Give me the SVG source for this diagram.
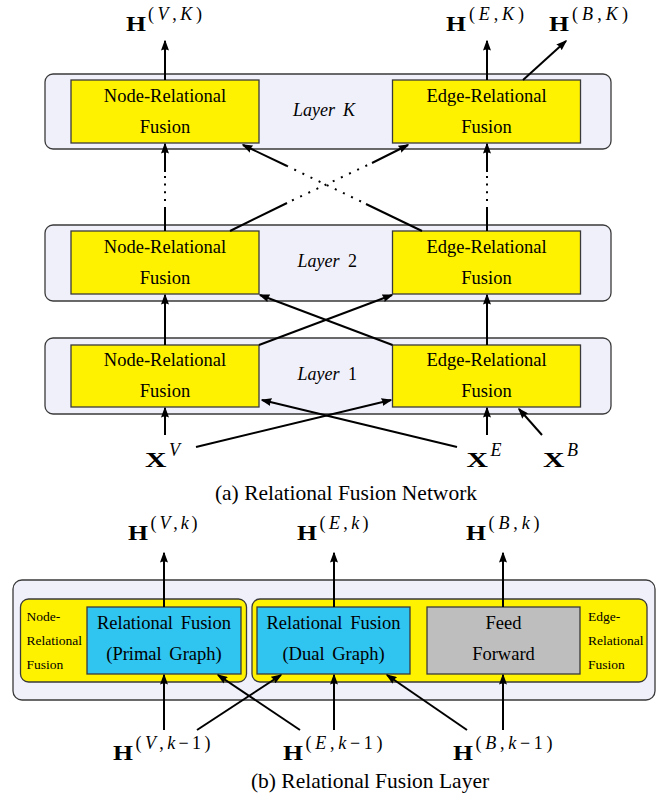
<svg xmlns="http://www.w3.org/2000/svg" width="669" height="804" viewBox="0 0 669 804">
<defs>
<marker id="arr" markerUnits="userSpaceOnUse" markerWidth="11" markerHeight="8" viewBox="0 0 11 8" refX="9.5" refY="4" orient="auto">
<path d="M0,0 L11,4 L0,8 Q2,4 0,0 z" fill="#000"/>
</marker>
<style>
.outer{fill:#f0f0fb;stroke:#3a3a3a;stroke-width:1.3}
.yel{fill:#fff200;stroke:#3a3a3a;stroke-width:1.3}
.blu{fill:#30c4f0;stroke:#3a3a3a;stroke-width:1.3}
.gry{fill:#bebebe;stroke:#3a3a3a;stroke-width:1.3}
.t{font-family:"Liberation Serif","Times New Roman",serif;font-size:18.5px;fill:#000;text-anchor:middle}
.tb{font-family:"Liberation Serif","Times New Roman",serif;font-size:18.5px;fill:#000;text-anchor:middle;word-spacing:3px}
.ts{font-family:"Liberation Serif","Times New Roman",serif;font-size:13.5px;fill:#000}
.lay{font-family:"Liberation Serif","Times New Roman",serif;font-size:18px;fill:#000;font-style:italic}
.up{font-style:normal}
.H{font-family:"Liberation Serif","Times New Roman",serif;font-size:22px;font-weight:bold;fill:#000}
.sup{font-family:"Liberation Serif","Times New Roman",serif;font-size:18px;font-style:italic;fill:#000}
.cap{font-family:"Liberation Serif","Times New Roman",serif;font-size:21.5px;fill:#000;text-anchor:middle}
.ln{stroke:#000;stroke-width:2;fill:none}
.dot{stroke:#000;stroke-width:2;fill:none;stroke-dasharray:2 7}
.dotv{stroke:#000;stroke-width:2;fill:none;stroke-dasharray:2 5.7}
</style>
</defs>
<rect width="669" height="804" fill="#fff"/>

<!-- (a) Relational Fusion Network -->
<g id="layerK">
<rect class="outer" x="45" y="74" width="566" height="75" rx="8"/>
<text class="lay" x="293" y="115.5">Layer <tspan x="343">K</tspan></text>
</g>
<g id="nodeK">
<rect class="yel" x="71" y="80" width="188" height="63"/>
<text class="t" x="165" y="101.5">Node-Relational</text>
<text class="t" x="165" y="133">Fusion</text>
</g>
<g id="edgeK">
<rect class="yel" x="392.5" y="80" width="188" height="63"/>
<text class="t" x="486.5" y="101.5">Edge-Relational</text>
<text class="t" x="486.5" y="133">Fusion</text>
</g>

<g id="layer2">
<rect class="outer" x="45" y="225" width="566" height="76" rx="8"/>
<text class="lay" x="297.5" y="267">Layer <tspan class="up" x="348">2</tspan></text>
</g>
<g id="node2">
<rect class="yel" x="71" y="231" width="188" height="63"/>
<text class="t" x="165" y="252.5">Node-Relational</text>
<text class="t" x="165" y="284">Fusion</text>
</g>
<g id="edge2">
<rect class="yel" x="392.5" y="231" width="188" height="63"/>
<text class="t" x="486.5" y="252.5">Edge-Relational</text>
<text class="t" x="486.5" y="284">Fusion</text>
</g>

<g id="layer1">
<rect class="outer" x="45" y="338" width="566" height="76" rx="8"/>
<text class="lay" x="297.5" y="380">Layer <tspan class="up" x="348">1</tspan></text>
</g>
<g id="node1">
<rect class="yel" x="71" y="345" width="188" height="62"/>
<text class="t" x="165" y="365.5">Node-Relational</text>
<text class="t" x="165" y="397">Fusion</text>
</g>
<g id="edge1">
<rect class="yel" x="392.5" y="345" width="188" height="62"/>
<text class="t" x="486.5" y="365.5">Edge-Relational</text>
<text class="t" x="486.5" y="397">Fusion</text>
</g>

<g id="outHVK">
<text class="H" x="126" y="31" textLength="20" lengthAdjust="spacingAndGlyphs">H</text>
<text class="sup" x="148" y="20" textLength="54" lengthAdjust="spacing"><tspan class="up">(</tspan>V<tspan class="up">,</tspan>K<tspan class="up">)</tspan></text>
</g>
<g id="outHEK">
<text class="H" x="446" y="31" textLength="20" lengthAdjust="spacingAndGlyphs">H</text>
<text class="sup" x="469" y="20" textLength="55" lengthAdjust="spacing"><tspan class="up">(</tspan>E<tspan class="up">,</tspan>K<tspan class="up">)</tspan></text>
</g>
<g id="outHBK">
<text class="H" x="549" y="31" textLength="20" lengthAdjust="spacingAndGlyphs">H</text>
<text class="sup" x="572" y="20" textLength="56" lengthAdjust="spacing"><tspan class="up">(</tspan>B<tspan class="up">,</tspan>K<tspan class="up">)</tspan></text>
</g>

<g id="inXV">
<text class="H" x="145" y="467" textLength="21.5" lengthAdjust="spacingAndGlyphs">X</text>
<text class="sup" x="169" y="456">V</text>
</g>
<g id="inXE">
<text class="H" x="466.5" y="467" textLength="21.5" lengthAdjust="spacingAndGlyphs">X</text>
<text class="sup" x="490.5" y="456">E</text>
</g>
<g id="inXB">
<text class="H" x="543" y="467" textLength="21.5" lengthAdjust="spacingAndGlyphs">X</text>
<text class="sup" x="567" y="456">B</text>
</g>

<text class="cap" x="346" y="500">(a) Relational Fusion Network</text>

<g id="connectors-a">
<!-- outputs -->
<line class="ln" x1="165" y1="80" x2="165" y2="41" marker-end="url(#arr)"/>
<line class="ln" x1="487" y1="80" x2="487" y2="41" marker-end="url(#arr)"/>
<line class="ln" x1="523" y1="80" x2="566" y2="41" marker-end="url(#arr)"/>
<!-- layer 2 to layer K -->
<line class="ln" x1="165" y1="231" x2="165" y2="207"/>
<line class="dotv" x1="165" y1="201" x2="165" y2="172"/>
<line class="ln" x1="165" y1="172" x2="165" y2="144" marker-end="url(#arr)"/>
<line class="ln" x1="487" y1="231" x2="487" y2="207"/>
<line class="dotv" x1="487" y1="201" x2="487" y2="172"/>
<line class="ln" x1="487" y1="172" x2="487" y2="144" marker-end="url(#arr)"/>
<line class="ln" x1="230" y1="231" x2="287" y2="203"/>
<line class="dot" x1="292" y1="200.5" x2="372" y2="163"/>
<line class="ln" x1="372" y1="163" x2="408" y2="145" marker-end="url(#arr)"/>
<line class="ln" x1="422" y1="231" x2="366" y2="204"/>
<line class="dot" x1="361" y1="201.5" x2="287" y2="166"/>
<line class="ln" x1="287" y1="166" x2="243" y2="145" marker-end="url(#arr)"/>
<!-- layer 1 to layer 2 -->
<line class="ln" x1="165" y1="345" x2="165" y2="295" marker-end="url(#arr)"/>
<line class="ln" x1="487" y1="345" x2="487" y2="295" marker-end="url(#arr)"/>
<line class="ln" x1="259" y1="345" x2="392" y2="295" marker-end="url(#arr)"/>
<line class="ln" x1="392.5" y1="345" x2="260" y2="295" marker-end="url(#arr)"/>
<!-- inputs -->
<line class="ln" x1="165" y1="435" x2="165" y2="408" marker-end="url(#arr)"/>
<line class="ln" x1="196" y1="447" x2="391" y2="400" marker-end="url(#arr)"/>
<line class="ln" x1="457" y1="447" x2="262" y2="400" marker-end="url(#arr)"/>
<line class="ln" x1="487" y1="435" x2="487" y2="408" marker-end="url(#arr)"/>
<line class="ln" x1="542" y1="435" x2="519" y2="409" marker-end="url(#arr)"/>
</g>

<!-- (b) Relational Fusion Layer -->
<g id="layerB">
<rect class="outer" x="13" y="580" width="642" height="120" rx="9"/>
</g>
<g id="nodeRF">
<rect class="yel" x="20.5" y="599" width="226" height="83" rx="8"/>
<text class="ts" x="26.5" y="621">Node-</text>
<text class="ts" x="26.5" y="645">Relational</text>
<text class="ts" x="26.5" y="669">Fusion</text>
</g>
<g id="edgeRF">
<rect class="yel" x="252" y="599" width="395" height="83" rx="8"/>
<text class="ts" x="588" y="621">Edge-</text>
<text class="ts" x="588" y="645">Relational</text>
<text class="ts" x="588" y="669">Fusion</text>
</g>
<g id="rfPrimal">
<rect class="blu" x="87" y="607" width="154" height="67"/>
<text class="tb" x="164" y="629">Relational Fusion</text>
<text class="tb" x="164" y="660">(Primal Graph)</text>
</g>
<g id="rfDual">
<rect class="blu" x="257" y="607" width="153" height="67"/>
<text class="tb" x="333.5" y="629">Relational Fusion</text>
<text class="tb" x="333.5" y="660">(Dual Graph)</text>
</g>
<g id="ffn">
<rect class="gry" x="427" y="607" width="153" height="67"/>
<text class="t" x="503.5" y="629">Feed</text>
<text class="t" x="503.5" y="660">Forward</text>
</g>

<g id="outHVk">
<text class="H" x="128" y="540" textLength="20" lengthAdjust="spacingAndGlyphs">H</text>
<text class="sup" x="150.5" y="529" textLength="47" lengthAdjust="spacing"><tspan class="up">(</tspan>V<tspan class="up">,</tspan>k<tspan class="up">)</tspan></text>
</g>
<g id="outHEk">
<text class="H" x="297" y="540" textLength="20" lengthAdjust="spacingAndGlyphs">H</text>
<text class="sup" x="319.5" y="529" textLength="49" lengthAdjust="spacing"><tspan class="up">(</tspan>E<tspan class="up">,</tspan>k<tspan class="up">)</tspan></text>
</g>
<g id="outHBk">
<text class="H" x="466" y="540" textLength="20" lengthAdjust="spacingAndGlyphs">H</text>
<text class="sup" x="488.5" y="529" textLength="51" lengthAdjust="spacing"><tspan class="up">(</tspan>B<tspan class="up">,</tspan>k<tspan class="up">)</tspan></text>
</g>

<g id="inHV">
<text class="H" x="113" y="760" textLength="20" lengthAdjust="spacingAndGlyphs">H</text>
<text class="sup" x="135.5" y="749" textLength="75" lengthAdjust="spacing"><tspan class="up">(</tspan>V<tspan class="up">,</tspan>k<tspan class="up">−1)</tspan></text>
</g>
<g id="inHE">
<text class="H" x="283" y="760" textLength="20" lengthAdjust="spacingAndGlyphs">H</text>
<text class="sup" x="305.5" y="749" textLength="77" lengthAdjust="spacing"><tspan class="up">(</tspan>E<tspan class="up">,</tspan>k<tspan class="up">−1)</tspan></text>
</g>
<g id="inHB">
<text class="H" x="453" y="760" textLength="20" lengthAdjust="spacingAndGlyphs">H</text>
<text class="sup" x="475.5" y="749" textLength="77" lengthAdjust="spacing"><tspan class="up">(</tspan>B<tspan class="up">,</tspan>k<tspan class="up">−1)</tspan></text>
</g>

<text class="cap" x="370" y="788">(b) Relational Fusion Layer</text>

<g id="connectors-b">
<line class="ln" x1="164" y1="607" x2="164" y2="553" marker-end="url(#arr)"/>
<line class="ln" x1="334" y1="607" x2="334" y2="553" marker-end="url(#arr)"/>
<line class="ln" x1="503" y1="607" x2="503" y2="553" marker-end="url(#arr)"/>
<line class="ln" x1="164" y1="730" x2="164" y2="675" marker-end="url(#arr)"/>
<line class="ln" x1="334" y1="730" x2="334" y2="675" marker-end="url(#arr)"/>
<line class="ln" x1="503" y1="730" x2="503" y2="675" marker-end="url(#arr)"/>
<line class="ln" x1="197" y1="730" x2="281" y2="675" marker-end="url(#arr)"/>
<line class="ln" x1="300" y1="730" x2="218" y2="675" marker-end="url(#arr)"/>
<line class="ln" x1="467" y1="730" x2="387" y2="675" marker-end="url(#arr)"/>
</g>
</svg>
